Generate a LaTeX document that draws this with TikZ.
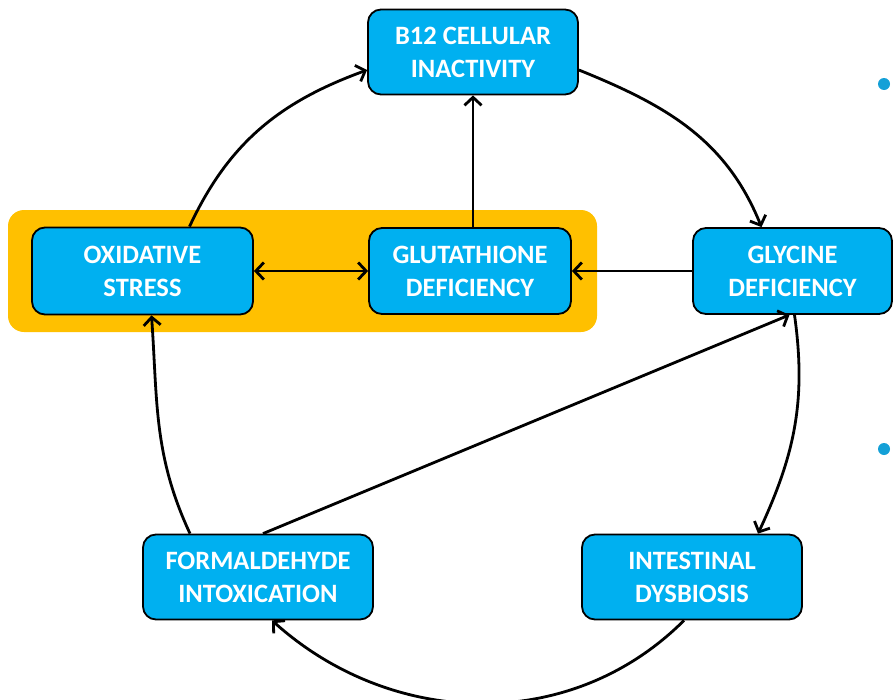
\documentclass[tikz,border=0pt]{standalone}
\usepackage{fontspec}
\setmainfont{Carlito}
\usetikzlibrary{arrows.meta}
\definecolor{boxblue}{RGB}{0,176,240}
\definecolor{hlorange}{RGB}{255,192,0}
\definecolor{dotblue}{RGB}{20,160,215}
\tikzset{
  box/.style={draw=black, line width=1.8pt, fill=boxblue, rounded corners=13pt,
    text=white, align=center, inner sep=0pt,
    font=\fontsize{26.5}{33}\selectfont\bfseries},
  hlbox/.style={fill=hlorange, rounded corners=16pt, inner sep=0pt, draw=none},
  tip/.style={Straight Barb[length=8pt,width=17pt,line width=2.8pt]},
  conn/.style={draw=black, line width=2.8pt, -{Straight Barb[length=8pt,width=17pt,line width=2.8pt]}},
  biconn/.style={draw=black, line width=2.8pt, {Straight Barb[length=8pt,width=17pt,line width=2.8pt]}-{Straight Barb[length=8pt,width=17pt,line width=2.8pt]}},
  bullet/.style={circle, fill=dotblue, inner sep=0pt, minimum size=12pt}
}
\begin{document}
\begin{tikzpicture}[x=1pt,y=-1pt]
\useasboundingbox (0,0) rectangle (894,699);
% highlight
\node[hlbox, minimum width=589pt, minimum height=122pt] (hl) at (302.5,271) {};
% boxes
\node[box, minimum width=210pt, minimum height=85pt] (b12) at (473,52) {B12 CELLULAR\\INACTIVITY};
\node[box, minimum width=221pt, minimum height=87pt] (ox) at (142.5,271) {OXIDATIVE\\STRESS};
\node[box, minimum width=202pt, minimum height=86pt] (glu) at (470,271) {GLUTATHIONE\\DEFICIENCY};
\node[box, minimum width=199pt, minimum height=86pt] (gly) at (792.5,271) {GLYCINE\\DEFICIENCY};
\node[box, minimum width=230pt, minimum height=85pt] (form) at (258,577) {FORMALDEHYDE\\INTOXICATION};
\node[box, minimum width=220pt, minimum height=85pt] (int) at (692,577) {INTESTINAL\\DYSBIOSIS};
% bullets
\node[bullet] (d1) at (884,84) {};
\node[bullet] (d2) at (884,449) {};
% circle arcs
\draw[conn] ([xshift=47pt]ox.north) to[out=65,in=200] ([yshift=-18pt]b12.west);
\draw[conn] ([yshift=-18pt]b12.east) to[out=-22,in=112] ([xshift=-31pt]gly.north);
\draw[conn] ([xshift=2pt]gly.south) to[out=-82,in=65] ([xshift=66pt]int.north);
\draw[conn] ([xshift=-8pt]int.south) to[out=-135,in=-42] ([xshift=14pt]form.south);
\draw[conn] ([xshift=-68pt]form.north) to[out=115,in=-86] ([xshift=9pt]ox.south);
% straight connectors
\draw[conn] ([xshift=3pt]glu.north) -- ([xshift=0pt]b12.south);
\draw[conn] (gly.west) -- (glu.east);
\draw[biconn] (ox.east) -- (glu.west);
\draw[conn] ([xshift=5pt]form.north) -- ([xshift=-3pt]gly.south);
\end{tikzpicture}
\end{document}
